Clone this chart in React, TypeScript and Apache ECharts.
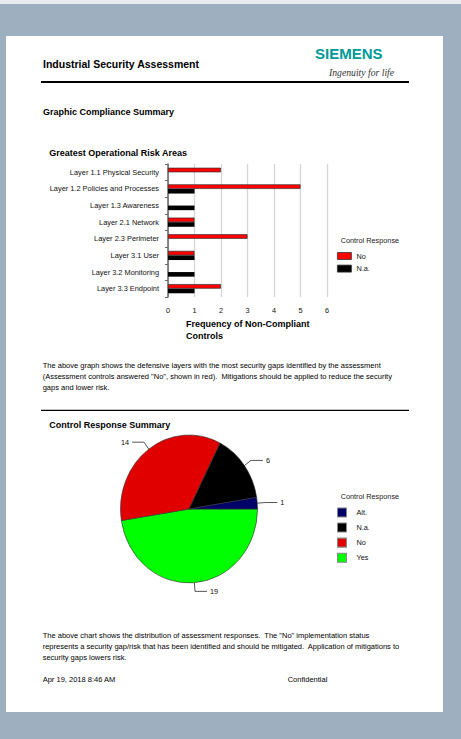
import React, { useEffect, useRef } from "react";
import * as echarts from "echarts";

// ---- data ----
const categories = [
  "Layer 1.1 Physical Security",
  "Layer 1.2 Policies and Processes",
  "Layer 1.3 Awareness",
  "Layer 2.1 Network",
  "Layer 2.3 Perimeter",
  "Layer 3.1 User",
  "Layer 3.2 Monitoring",
  "Layer 3.3 Endpoint",
];
const noCounts = [2, 5, 0, 1, 3, 1, 0, 2];
const naCounts = [0, 1, 1, 1, 0, 1, 1, 1];
const barSeriesNames = ["No", "N.a."];

const pieNames = ["Yes", "No", "N.a.", "Alt."];
const pieValues = [19, 14, 6, 1];
const pieLegendOrder = ["Alt.", "N.a.", "No", "Yes"];

const para1 = [
  "The above graph shows the defensive layers with the most security gaps identified by the assessment",
  "(Assessment controls answered \"No\", shown in red).  Mitigations should be applied to reduce the security",
  "gaps and lower risk.",
];
const para2 = [
  "The above chart shows the distribution of assessment responses.  The \"No\" implementation status",
  "represents a security gap/risk that has been identified and should be mitigated.  Application of mitigations to",
  "security gaps lowers risk.",
];

// ---- styles ----
const FONT = "'Liberation Sans', Arial, Helvetica, sans-serif";
const PIE_COLORS: Record<string, string> = {
  Yes: "#00ff00",
  No: "#e00000",
  "N.a.": "#000000",
  "Alt.": "#000066",
};
const PIE_CX = 189;
const PIE_CY = 509;
const PIE_STRETCH = 1.08;

function txt(x: number, y: number, text: string, size: number, bold = false, extra: any = {}) {
  return {
    type: "text",
    x,
    y,
    z: 10,
    silent: true,
    style: {
      text,
      fontSize: size,
      fontWeight: bold ? "bold" : "normal",
      fontFamily: FONT,
      fill: "#000",
      verticalAlign: "middle",
      align: "left",
      ...extra,
    },
  };
}

export default function App() {
  const ref = useRef<HTMLDivElement>(null);
  const pieRef = useRef<HTMLDivElement>(null);

  useEffect(() => {
    if (!ref.current || !pieRef.current) return;
    const chart = echarts.init(ref.current, undefined, { renderer: "svg" });
    const pie = echarts.init(pieRef.current, undefined, { renderer: "svg" });

    const graphics: any[] = [
      { type: "rect", z: -10, silent: true, shape: { x: 0, y: 0, width: 461, height: 739 }, style: { fill: "#9eafbf" } },
      { type: "rect", z: -10, silent: true, shape: { x: 0, y: 0, width: 461, height: 4 }, style: { fill: "#e9ecef" } },
      { type: "rect", z: -9, silent: true, shape: { x: 6, y: 36, width: 437, height: 676 }, style: { fill: "#ffffff" } },
      txt(43, 63.5, "Industrial Security Assessment", 10.5, true),
      txt(315, 53.5, "SIEMENS", 15, true, { fill: "#009999" }),
      {
        type: "text",
        x: 329,
        y: 72,
        z: 10,
        silent: true,
        style: {
          text: "Ingenuity for life",
          fontSize: 9.7,
          fontStyle: "italic",
          fontFamily: "'Liberation Serif', serif",
          fill: "#333",
          verticalAlign: "middle",
        },
      },
      { type: "line", z: 10, silent: true, shape: { x1: 41, y1: 82, x2: 409, y2: 82 }, style: { stroke: "#000", lineWidth: 2 } },
      txt(43, 112, "Graphic Compliance Summary", 9, true),
      txt(49.3, 152.7, "Greatest Operational Risk Areas", 9, true),
      txt(186, 324.3, "Frequency of Non-Compliant", 9, true),
      txt(186, 336, "Controls", 9, true),
      txt(340.7, 240, "Control Response", 7.3, false, { fill: "#222" }),
      ...para1.map((t, i) => txt(42.7, 365 + i * 11.35, t, 7.5)),
      { type: "line", z: 10, silent: true, shape: { x1: 41, y1: 410.3, x2: 409, y2: 410.3 }, style: { stroke: "#000", lineWidth: 1.2 } },
      txt(49.3, 425, "Control Response Summary", 9, true),
      txt(340.7, 496.7, "Control Response", 7.3, false, { fill: "#222" }),
      ...para2.map((t, i) => txt(42.7, 635 + i * 11.35, t, 7.5)),
      txt(42.7, 679.3, "Apr 19, 2018 8:46 AM", 7.5),
      txt(287.7, 679.3, "Confidential", 7.5),
    ];

    const option: any = {
      animation: false,
      textStyle: { fontFamily: FONT },
      graphic: { elements: graphics },
      grid: { left: 168, top: 164, width: 159, height: 133, containLabel: false },
      xAxis: {
        type: "value",
        min: 0,
        max: 6,
        interval: 1,
        axisLine: { show: false },
        axisTick: { show: false },
        splitLine: { show: true, lineStyle: { color: "#d6d6d6", width: 1.3 } },
        axisLabel: { fontSize: 7.3, color: "#111", margin: 10, fontFamily: FONT },
      },
      yAxis: {
        type: "category",
        inverse: true,
        data: categories,
        offset: 4,
        axisLine: { show: true, lineStyle: { color: "#666", width: 1.5 } },
        axisTick: { show: true, length: 3, lineStyle: { color: "#666", width: 1 } },
        axisLabel: { fontSize: 7.4, color: "#111", margin: 5, fontFamily: FONT },
        splitLine: { show: false },
      },
      legend: {
        orient: "vertical",
        left: 337,
        top: 251.5,
        padding: 0,
        data: barSeriesNames,
        itemWidth: 14,
        itemHeight: 7,
        itemGap: 3.6,
        icon: "rect",
        selectedMode: false,
        itemStyle: { borderColor: "#333", borderWidth: 0.8 },
        textStyle: { fontSize: 7.3, color: "#111", lineHeight: 9, fontFamily: FONT },
      },
      series: [
        {
          name: barSeriesNames[0],
          type: "bar",
          data: noCounts.map((v) => (v === 0 ? "-" : v)),
          barWidth: 4.6,
          barGap: "0%",
          itemStyle: { color: "#ff0000", borderColor: "#333", borderWidth: 0.7 },
          emphasis: { disabled: true },
        },
        {
          name: barSeriesNames[1],
          type: "bar",
          data: naCounts.map((v) => (v === 0 ? "-" : v)),
          barWidth: 4.6,
          barGap: "0%",
          itemStyle: { color: "#000000" },
          emphasis: { disabled: true },
        },
      ],
    };

    // The pie in the reference is slightly taller than wide; it is drawn in its own
    // layer that is stretched vertically about the pie centre.
    const loc = (pageY: number) => PIE_CY + (pageY - PIE_CY) / PIE_STRETCH;
    const legendItemH = 9 / PIE_STRETCH;
    const legendStep = 14 / PIE_STRETCH;
    const pieOption: any = {
      animation: false,
      textStyle: { fontFamily: FONT },
      legend: {
        orient: "vertical",
        left: 337,
        top: loc(511.9) - legendItemH / 2,
        padding: 0,
        data: pieLegendOrder,
        itemWidth: 9,
        itemHeight: legendItemH,
        itemGap: legendStep - legendItemH,
        icon: "rect",
        selectedMode: false,
        itemStyle: { borderColor: "#888", borderWidth: 1 },
        textStyle: { fontSize: 7.3, color: "#111", lineHeight: legendItemH, padding: [0, 0, 0, 5], fontFamily: FONT },
      },
      series: [
        {
          name: "Control Response",
          type: "pie",
          center: [PIE_CX, PIE_CY],
          radius: [0, 68.5],
          startAngle: 0,
          clockwise: true,
          avoidLabelOverlap: true,
          data: pieNames.map((n, i) => ({
            name: n,
            value: pieValues[i],
            itemStyle: { color: PIE_COLORS[n] },
          })),
          itemStyle: { borderColor: "#333", borderWidth: 0.6 },
          label: {
            show: true,
            position: "outside",
            formatter: "{c}",
            fontSize: 7.3,
            color: "#111",
            fontFamily: FONT,
            distanceToLabelLine: 3,
          },
          labelLine: { show: true, length: 8, length2: 12, lineStyle: { color: "#333", width: 0.8 } },
          emphasis: { disabled: true },
        },
      ],
    };

    chart.setOption(option);
    pie.setOption(pieOption);
    return () => {
      chart.dispose();
      pie.dispose();
    };
  }, []);

  return (
    <div style={{ position: "absolute", left: 0, top: 0, width: 461, height: 739 }}>
      <div
        ref={ref}
        style={{ position: "absolute", left: 0, top: 0, width: 461, height: 739 }}
      />
      <div
        ref={pieRef}
        style={{
          position: "absolute",
          left: 0,
          top: 0,
          width: 461,
          height: 739,
          transform: `scaleY(${PIE_STRETCH})`,
          transformOrigin: `${PIE_CX}px ${PIE_CY}px`,
        }}
      />
    </div>
  );
}
